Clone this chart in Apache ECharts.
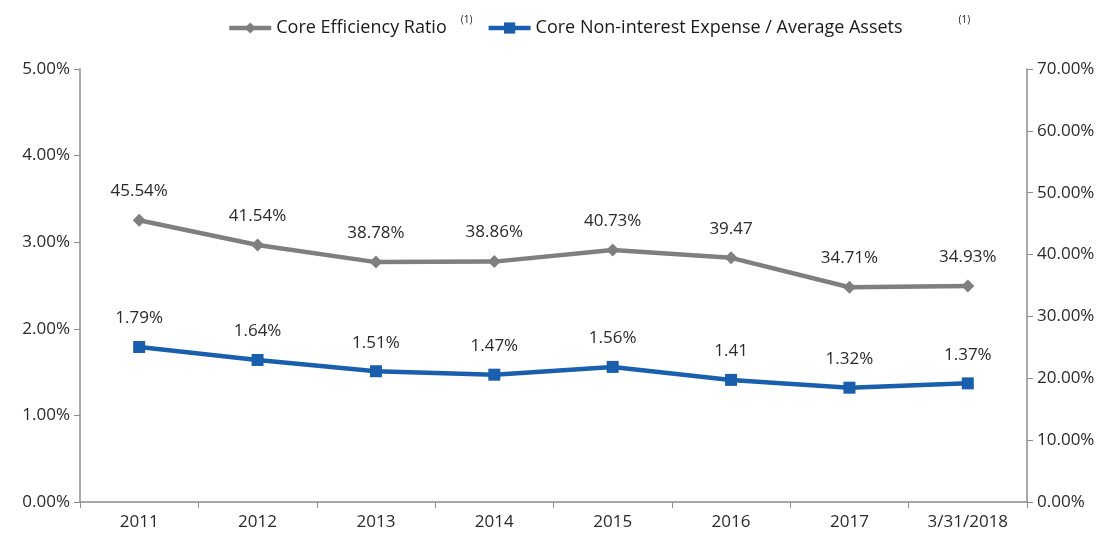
<!DOCTYPE html>
<html>
<head>
<meta charset="utf-8">
<script src="https://cdn.jsdelivr.net/npm/echarts@6/dist/echarts.min.js"></script>
<style>
  html, body { margin: 0; padding: 0; background: #fff; }
  #chart { width: 1113px; height: 543px; }
</style>
</head>
<body>
<div id="chart"></div>
<script>
var categories = ["2011", "2012", "2013", "2014", "2015", "2016", "2017", "3/31/2018"];
var efficiencyRatio = [45.54, 41.54, 38.78, 38.86, 40.73, 39.47, 34.71, 34.93];
var efficiencyLabels = ["45.54%", "41.54%", "38.78%", "38.86%", "40.73%", "39.47", "34.71%", "34.93%"];
var expenseRatio = [1.79, 1.64, 1.51, 1.47, 1.56, 1.41, 1.32, 1.37];
var expenseLabels = ["1.79%", "1.64%", "1.51%", "1.47%", "1.56%", "1.41", "1.32%", "1.37%"];
var leftTicks = [0, 1, 2, 3, 4, 5];
var rightTicks = [0, 10, 20, 30, 40, 50, 60, 70];

var font = "Open Sans";
var textColor = "#2a2a2a";
var axisColor = "#8c8c8c";

var chart = echarts.init(document.getElementById("chart"));

var option = {
  animation: false,
  textStyle: { fontFamily: font },
  legend: {
    top: 10,
    left: 222,
    itemWidth: 42,
    itemHeight: 14,
    itemGap: 14,
    lineStyle: { width: 4.5 },
    textStyle: {
      fontFamily: font,
      fontSize: 18,
      color: "#1a1a1a",
      rich: {
        sup: { fontSize: 10, verticalAlign: "top", padding: [0, 0, 16, 14], color: "#1a1a1a" },
        sup2: { fontSize: 10, verticalAlign: "top", padding: [0, 0, 16, 56], color: "#1a1a1a" }
      }
    },
    formatter: function (name) {
      if (name === "Core Efficiency Ratio") return name + "{sup|(1)}";
      return name + "{sup2|(1)}";
    },
    data: ["Core Efficiency Ratio", "Core Non-interest Expense / Average Assets"]
  },
  grid: { left: 80, right: 86, top: 69, bottom: 41 },
  xAxis: {
    type: "category",
    data: categories,
    boundaryGap: true,
    axisLine: { lineStyle: { color: axisColor, width: 1.5 } },
    axisTick: { show: true, length: 6, lineStyle: { color: axisColor } },
    axisLabel: { fontFamily: font, fontSize: 17, color: textColor, margin: 12 }
  },
  yAxis: [
    {
      type: "value",
      min: leftTicks[0],
      max: leftTicks[leftTicks.length - 1],
      interval: 1,
      splitLine: { show: false },
      axisLine: { show: true, lineStyle: { color: axisColor, width: 1.5 } },
      axisTick: { show: true, length: 6, lineStyle: { color: axisColor } },
      axisLabel: {
        fontFamily: font, fontSize: 17, color: textColor, margin: 10,
        formatter: function (v) { return v.toFixed(2) + "%"; }
      }
    },
    {
      type: "value",
      min: rightTicks[0],
      max: rightTicks[rightTicks.length - 1],
      interval: 10,
      splitLine: { show: false },
      axisLine: { show: true, lineStyle: { color: axisColor, width: 1.5 } },
      axisTick: { show: true, length: 6, lineStyle: { color: axisColor } },
      axisLabel: {
        fontFamily: font, fontSize: 17, color: textColor, margin: 10,
        formatter: function (v) { return v.toFixed(2) + "%"; }
      }
    }
  ],
  series: [
    {
      name: "Core Efficiency Ratio",
      type: "line",
      yAxisIndex: 1,
      data: efficiencyRatio,
      symbol: "diamond",
      symbolSize: 13,
      lineStyle: { color: "#7f7f7f", width: 4.5 },
      itemStyle: { color: "#7f7f7f" },
      label: {
        show: true, position: "top", distance: 14,
        fontFamily: font, fontSize: 17, color: textColor,
        formatter: function (p) { return efficiencyLabels[p.dataIndex]; }
      }
    },
    {
      name: "Core Non-interest Expense / Average Assets",
      type: "line",
      yAxisIndex: 0,
      data: expenseRatio,
      symbol: "rect",
      symbolSize: 12,
      lineStyle: { color: "#1a5fad", width: 4.5 },
      itemStyle: { color: "#1a5fad" },
      label: {
        show: true, position: "top", distance: 14,
        fontFamily: font, fontSize: 17, color: textColor,
        formatter: function (p) { return expenseLabels[p.dataIndex]; }
      }
    }
  ]
};

chart.setOption(option);
</script>
</body>
</html>
